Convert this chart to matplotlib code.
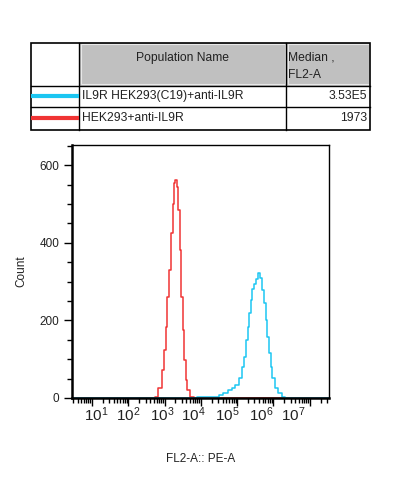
import numpy as np
import matplotlib.pyplot as plt
from matplotlib.patches import Rectangle
from matplotlib.ticker import FixedLocator, LogLocator, NullFormatter, MultipleLocator

plt.rcParams['font.family'] = ['Liberation Sans', 'DejaVu Sans']
plt.rcParams['mathtext.fontset'] = 'custom'
plt.rcParams['mathtext.rm'] = 'Liberation Sans'
plt.rcParams['mathtext.it'] = 'Liberation Sans'

# population table
pop_names = ["IL9R HEK293(C19)+anti-IL9R", "HEK293+anti-IL9R"]
medians = ["3.53E5", "1973"]
pop_colors = ["#1cc6f2", "#f03434"]

# histograms (log10 of FL2-A, count)
red_log = [0.45, 2.70, 2.78, 2.87, 2.96, 3.01, 3.06, 3.10, 3.15, 3.20, 3.24, 3.29, 3.31,
           3.35, 3.40, 3.44, 3.49, 3.52, 3.56, 3.61, 3.65, 3.75, 3.85, 7.53]
red_cnt = [0, 0, 3, 25, 72, 124, 184, 261, 330, 424, 501, 553, 563,
           544, 484, 381, 261, 175, 98, 46, 21, 3, 0, 0]

blue_log = [0.45, 3.85, 3.95, 4.48, 4.53, 4.66, 4.80, 4.89, 4.99, 5.08, 5.17, 5.21, 5.26,
            5.31, 5.35, 5.40, 5.44, 5.49, 5.54, 5.61, 5.67, 5.72, 5.77, 5.81, 5.86,
            5.90, 5.95, 5.99, 6.09, 6.18, 6.27, 6.36, 7.53]
blue_cnt = [0, 0, 3, 3, 8, 14, 21, 25, 33, 51, 81, 106, 149,
            184, 218, 252, 282, 295, 306, 321, 308, 278, 244, 201, 158,
            115, 81, 51, 25, 12, 3, 0, 0]

decades = [1, 2, 3, 4, 5, 6, 7]
# FlowJo draws the decade labels slightly squeezed relative to the ticks
label_log = [1.11, 2.01, 2.93, 3.78, 4.72, 5.66, 6.54]

W, H = 401, 483
fig = plt.figure(figsize=(W / 100, H / 100), dpi=100)

# ---- table ----
tab = fig.add_axes([0, 0, 1, 1])
tab.set_xlim(0, W)
tab.set_ylim(H, 0)
tab.axis('off')
x0, x1, x2, x3 = 30.5, 79, 286, 370
y0, y1, y2, y3 = 42.5, 85.5, 107, 129.5
fs = 8.7
for xa, xb in [(x1, x2), (x2, x3)]:
    tab.add_patch(Rectangle((xa, y0), xb - xa, y1 - y0, facecolor='#c0c0c0',
                            edgecolor='none'))
    tab.add_patch(Rectangle((xa + 1.5, y0 + 1.5), xb - xa - 3, y1 - y0 - 3,
                            facecolor='none', edgecolor='#e8e8e8', lw=0.8))
tab.add_patch(Rectangle((x0, y0), x3 - x0, y3 - y0, facecolor='none',
                        edgecolor='black', lw=1.2))
for yy in [y1, y2]:
    tab.plot([x0, x3], [yy, yy], color='black', lw=1)
tab.plot([x1, x1], [y0, y3], color='black', lw=1)
tab.plot([x2, x2], [y0, y3], color='black', lw=1)
tab.text((x1 + x2) / 2, 57.5, "Population Name", ha='center', va='center', fontsize=fs,
         color='#222222')
tab.text(x2 + 2, 57.5, "Median ,", ha='left', va='center', fontsize=fs, color='#222222')
tab.text(x2 + 2, 75.5, "FL2-A", ha='left', va='center', fontsize=fs, color='#222222')
for i, (nm, md, c) in enumerate(zip(pop_names, medians, pop_colors)):
    yc = (y1 + y2) / 2 if i == 0 else (y2 + y3) / 2
    tab.plot([x0, x1], [yc, yc], color=c, lw=3, solid_capstyle='butt')
    tab.text(x1 + 3, yc, nm, ha='left', va='center', fontsize=fs, color='#222222')
    tab.text(x3 - 3, yc, md, ha='right', va='center', fontsize=fs, color='#222222')

# ---- histogram ----
left, right, top, bottom = 72, 329, 145, 398
ax = fig.add_axes([left / W, (H - bottom) / H, (right - left) / W, (bottom - top) / H])
ax.set_xscale('log')
ax.set_xlim(10 ** 0.45, 10 ** 7.53)
ax.set_ylim(0, 652)

ax.plot(10 ** np.array(red_log), red_cnt, color=pop_colors[1], lw=1.1,
        drawstyle='steps-mid')
ax.plot(10 ** np.array(blue_log), blue_cnt, color=pop_colors[0], lw=1.1,
        drawstyle='steps-mid')

for s in ['top', 'right']:
    ax.spines[s].set_linewidth(1.0)
for s in ['left', 'bottom']:
    ax.spines[s].set_linewidth(1.8)

ax.yaxis.set_major_locator(FixedLocator([0, 200, 400, 600]))
ax.yaxis.set_minor_locator(MultipleLocator(50))
ax.tick_params(axis='y', which='major', length=6, width=1, labelsize=8.5, pad=3,
               labelcolor='#222222')
ax.tick_params(axis='y', which='minor', length=3.5, width=1)
ax.set_ylabel("Count", fontsize=8.5, labelpad=9)

ax.xaxis.set_major_locator(FixedLocator([10.0 ** d for d in decades]))
ax.xaxis.set_minor_locator(LogLocator(base=10, subs=np.arange(2, 10), numticks=20))
ax.xaxis.set_major_formatter(NullFormatter())
ax.xaxis.set_minor_formatter(NullFormatter())
ax.tick_params(axis='x', which='major', length=6, width=1)
ax.tick_params(axis='x', which='minor', length=3.5, width=1)

lab = ax.twiny()
lab.set_xscale('log')
lab.set_xlim(ax.get_xlim())
lab.xaxis.set_ticks_position('bottom')
lab.spines[:].set_visible(False)
lab.xaxis.set_major_locator(FixedLocator([10.0 ** p for p in label_log]))
lab.xaxis.set_minor_locator(FixedLocator([]))
lab.set_xticklabels([f"$10^{{{d}}}$" for d in decades])
lab.tick_params(axis='x', length=0, pad=5, labelsize=11, labelcolor='#222222')

ax.set_xlabel("FL2-A:: PE-A", fontsize=8.5, labelpad=30)
ax.yaxis.label.set_color('#222222')
ax.xaxis.label.set_color('#222222')

fig.savefig("out.png", dpi=100)
